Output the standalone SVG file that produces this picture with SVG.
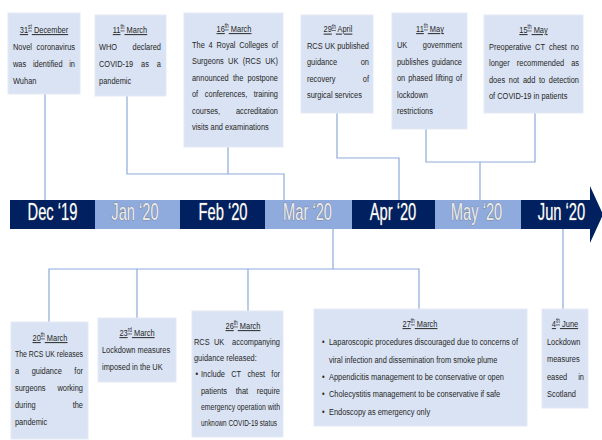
<svg xmlns="http://www.w3.org/2000/svg" width="602" height="440" viewBox="0 0 602 440">
<style>
.bx{fill:#dae3f3;stroke:#e3e9f5;stroke-width:1}
.t{font-family:"Liberation Sans",Arial,sans-serif;font-size:9.9px;fill:#262626}
.hd{text-anchor:middle;text-decoration:underline}
.sp{font-size:6.4px}
.e{text-anchor:end}
.cn{fill:none;stroke:#8eaadb;stroke-width:1.2}
.dk{fill:#002060}
.lt{fill:#8faadc}
.tl{font-family:"Liberation Sans",Arial,sans-serif;font-size:23px;text-anchor:middle;fill:#ffffff;stroke:#7f7f7f;stroke-width:.7px;paint-order:stroke}
.tll{fill:#ececec;stroke:#666666}
</style>
<rect width="602" height="440" fill="#ffffff"/>
<g id="connectors">
<path class="cn" d="M45 94V200"/>
<path class="cn" d="M127 96V174H284V200M228 147V174"/>
<path class="cn" d="M337 113V158H399V200"/>
<path class="cn" d="M426 129V162H535V113M480 162V200"/>
<path class="cn" d="M333 229V269M49 322V269H419V309M137 269V318M248 269V311"/>
<path class="cn" d="M563 229V309"/>
</g>
<g id="timeline">
<rect class="dk" x="10" y="200" width="85" height="29"/>
<rect class="lt" x="95" y="200" width="85" height="29"/>
<rect class="dk" x="180" y="200" width="85" height="29"/>
<rect class="lt" x="265" y="200" width="87" height="29"/>
<rect class="dk" x="352" y="200" width="83" height="29"/>
<rect class="lt" x="435" y="200" width="86" height="29"/>
<path class="dk" d="M521 200H590V186L603 214.5L590 243V229H521Z"/>
<text class="tl" transform="matrix(.64 0 0 1 52.5 220)">Dec ‘19</text>
<text class="tl tll" transform="matrix(.64 0 0 1 135 220)">Jan ‘20</text>
<text class="tl" transform="matrix(.64 0 0 1 223 220)">Feb ‘20</text>
<text class="tl tll" transform="matrix(.64 0 0 1 307.5 220)">Mar ‘20</text>
<text class="tl" transform="matrix(.64 0 0 1 393 220)">Apr ‘20</text>
<text class="tl tll" transform="matrix(.64 0 0 1 476.5 220)">May ‘20</text>
<text class="tl" transform="matrix(.64 0 0 1 561.5 220)">Jun ‘20</text>
</g>
<g id="n-dec31">
<rect class="bx" x="8" y="13" width="72" height="81"/>
<g class="t" transform="scale(.75 1)">
<text class="hd" x="58.67" y="33">31<tspan class="sp" dy="-3.5">st</tspan><tspan dy="3.5"> December</tspan></text>
<text y="50"><tspan x="17.33">Novel</tspan><tspan x="100" class="e">coronavirus</tspan></text>
<text y="67"><tspan x="17.33">was</tspan><tspan x="43.87">identified</tspan><tspan x="100" class="e">in</tspan></text>
<text x="17.33" y="84">Wuhan</text>
</g>
</g>
<g id="n-mar11">
<rect class="bx" x="95" y="15" width="71" height="81"/>
<g class="t" transform="scale(.75 1)">
<text class="hd" x="173.33" y="33">11<tspan class="sp" dy="-3.5">th</tspan><tspan dy="3.5"> March</tspan></text>
<text y="50"><tspan x="132">WHO</tspan><tspan x="214.67" class="e">declared</tspan></text>
<text y="67"><tspan x="132">COVID-19</tspan><tspan x="188.13">as</tspan><tspan x="214.67" class="e">a</tspan></text>
<text x="132" y="84">pandemic</text>
</g>
</g>
<g id="n-mar16">
<rect class="bx" x="184" y="13" width="99" height="134"/>
<g class="t" transform="scale(.75 1)">
<text class="hd" x="312" y="32">16<tspan class="sp" dy="-3.5">th</tspan><tspan dy="3.5"> March</tspan></text>
<text y="48"><tspan x="256">The</tspan><tspan x="278.13">4</tspan><tspan x="288.67">Royal</tspan><tspan x="318.93">Colleges</tspan><tspan x="370.67" class="e">of</tspan></text>
<text y="64.5"><tspan x="256">Surgeons</tspan><tspan x="304.13">UK</tspan><tspan x="323.73">(RCS</tspan><tspan x="370.67" class="e">UK)</tspan></text>
<text y="81"><tspan x="256">announced</tspan><tspan x="310.67">the</tspan><tspan x="370.67" class="e">postpone</tspan></text>
<text y="97.5"><tspan x="256">of</tspan><tspan x="273.07">conferences,</tspan><tspan x="370.67" class="e">training</tspan></text>
<text y="114"><tspan x="256">courses,</tspan><tspan x="370.67" class="e">accreditation</tspan></text>
<text x="256" y="130.5">visits and examinations</text>
</g>
</g>
<g id="n-apr29">
<rect class="bx" x="301" y="15" width="72" height="98"/>
<g class="t" transform="scale(.75 1)">
<text class="hd" x="450.67" y="32.5">29<tspan class="sp" dy="-3.5">th</tspan><tspan dy="3.5"> April</tspan></text>
<text y="49"><tspan x="409.33">RCS</tspan><tspan x="433.07">UK</tspan><tspan x="492" class="e">published</tspan></text>
<text y="65.5"><tspan x="409.33">guidance</tspan><tspan x="492" class="e">on</tspan></text>
<text y="82"><tspan x="409.33">recovery</tspan><tspan x="492" class="e">of</tspan></text>
<text x="409.33" y="98.5">surgical services</text>
</g>
</g>
<g id="n-may11">
<rect class="bx" x="392" y="13" width="75" height="116"/>
<g class="t" transform="scale(.75 1)">
<text class="hd" x="573.33" y="32">11<tspan class="sp" dy="-3.5">th</tspan><tspan dy="3.5"> May</tspan></text>
<text y="48.5"><tspan x="529.33">UK</tspan><tspan x="616" class="e">government</tspan></text>
<text y="65"><tspan x="529.33">publishes</tspan><tspan x="616" class="e">guidance</tspan></text>
<text y="81.5"><tspan x="529.33">on</tspan><tspan x="544.27">phased</tspan><tspan x="580.67">lifting</tspan><tspan x="616" class="e">of</tspan></text>
<text x="529.33" y="98">lockdown</text>
<text x="529.33" y="114.5">restrictions</text>
</g>
</g>
<g id="n-may15">
<rect class="bx" x="484" y="15" width="99" height="98"/>
<g class="t" transform="scale(.75 1)">
<text class="hd" x="711.33" y="33">15<tspan class="sp" dy="-3.5">th</tspan><tspan dy="3.5"> May</tspan></text>
<text y="50"><tspan x="652">Preoperative</tspan><tspan x="713.47">CT</tspan><tspan x="732.13">chest</tspan><tspan x="772" class="e">no</tspan></text>
<text y="66.5"><tspan x="652">longer</tspan><tspan x="689.07">recommended</tspan><tspan x="772" class="e">as</tspan></text>
<text y="83"><tspan x="652">does</tspan><tspan x="678.4">not</tspan><tspan x="697.2">add</tspan><tspan x="718.67">to</tspan><tspan x="772" class="e">detection</tspan></text>
<text x="652" y="99.5">of COVID-19 in patients</text>
</g>
</g>
<g id="n-mar20">
<rect class="bx" x="11" y="322" width="77" height="117"/>
<g class="t" transform="scale(.75 1)">
<text class="hd" x="66.67" y="341">20<tspan class="sp" dy="-3.5">th</tspan><tspan dy="3.5"> March</tspan></text>
<text x="20" y="357.5" textLength="90.67" lengthAdjust="spacingAndGlyphs">The RCS UK releases</text>
<text y="374.5"><tspan x="20">a</tspan><tspan x="42.27">guidance</tspan><tspan x="110.67" class="e">for</tspan></text>
<text y="391.5"><tspan x="20">surgeons</tspan><tspan x="110.67" class="e">working</tspan></text>
<text y="408.5"><tspan x="20">during</tspan><tspan x="110.67" class="e">the</tspan></text>
<text x="20" y="425.5">pandemic</text>
</g>
</g>
<g id="n-mar23">
<rect class="bx" x="98" y="318" width="78" height="64"/>
<g class="t" transform="scale(.75 1)">
<text class="hd" x="182.67" y="336">23<tspan class="sp" dy="-3.5">rd</tspan><tspan dy="3.5"> March</tspan></text>
<text x="136" y="353">Lockdown measures</text>
<text x="136" y="370">imposed in the UK</text>
</g>
</g>
<g id="n-mar26">
<rect class="bx" x="192" y="311" width="91" height="126"/>
<g class="t" transform="scale(.75 1)">
<text class="hd" x="324" y="329">26<tspan class="sp" dy="-3.5">th</tspan><tspan dy="3.5"> March</tspan></text>
<text y="345"><tspan x="258.67">RCS</tspan><tspan x="285.27">UK</tspan><tspan x="373.33" class="e">accompanying</tspan></text>
<text x="258.67" y="361">guidance released:</text>
<text y="377.5"><tspan x="260.67">•</tspan><tspan x="268">Include</tspan><tspan x="308.27">CT</tspan><tspan x="329.87">chest</tspan><tspan x="373.33" class="e">for</tspan></text>
<text y="394"><tspan x="268">patients</tspan><tspan x="314.4">that</tspan><tspan x="373.33" class="e">require</tspan></text>
<text x="268" y="410" textLength="105.33" lengthAdjust="spacingAndGlyphs">emergency operation with</text>
<text x="268" y="426" textLength="101.33" lengthAdjust="spacingAndGlyphs">unknown COVID-19 status</text>
</g>
</g>
<g id="n-mar27">
<rect class="bx" x="314" y="309" width="213" height="117"/>
<g class="t" transform="scale(.75 1)">
<text class="hd" x="560" y="327">27<tspan class="sp" dy="-3.5">th</tspan><tspan dy="3.5"> March</tspan></text>
<text y="345"><tspan x="429.33">•</tspan><tspan x="438.67">Laparoscopic procedures discouraged due to concerns of</tspan></text>
<text x="438.67" y="363">viral infection and dissemination from smoke plume</text>
<text y="380"><tspan x="429.33">•</tspan><tspan x="438.67">Appendicitis management to be conservative or open</tspan></text>
<text y="397"><tspan x="429.33">•</tspan><tspan x="438.67">Cholecystitis management to be conservative if safe</tspan></text>
<text y="415"><tspan x="429.33">•</tspan><tspan x="438.67">Endoscopy as emergency only</tspan></text>
</g>
</g>
<g id="n-jun4">
<rect class="bx" x="542" y="309" width="46" height="99"/>
<g class="t" transform="scale(.75 1)">
<text class="hd" x="753.33" y="327">4<tspan class="sp" dy="-3.5">th</tspan><tspan dy="3.5"> June</tspan></text>
<text x="729.33" y="345">Lockdown</text>
<text x="729.33" y="362">measures</text>
<text y="380"><tspan x="729.33">eased</tspan><tspan x="778.67" class="e">in</tspan></text>
<text x="729.33" y="397">Scotland</text>
</g>
</g>
</svg>
